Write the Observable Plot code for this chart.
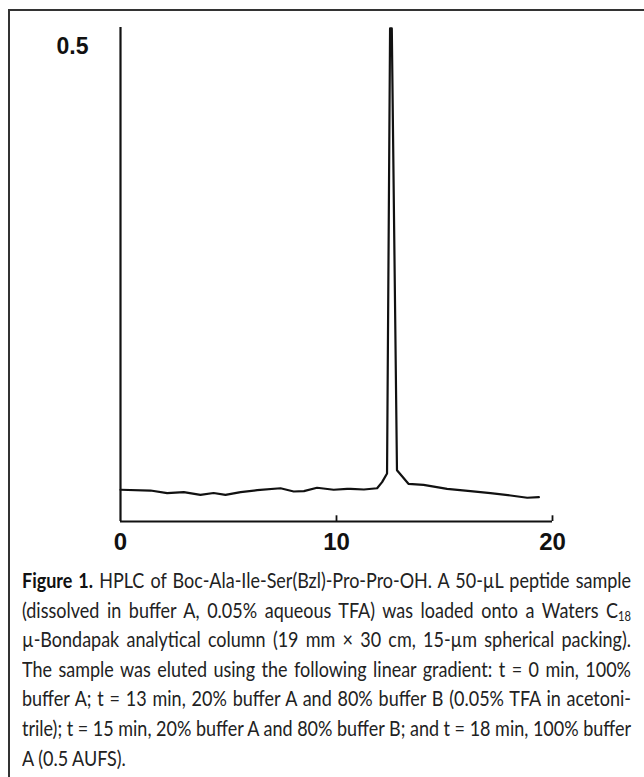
<!DOCTYPE html>
<html>
<head>
<meta charset="utf-8">
<script src="https://cdn.jsdelivr.net/npm/d3@7"></script>
<script src="https://cdn.jsdelivr.net/npm/@observablehq/plot@0.6"></script>
<style>
  html, body { margin: 0; padding: 0; background: #fff; }
  #frame { position: relative; width: 644px; height: 777px; overflow: hidden; }
  #border { position: absolute; left: 8px; top: 9px; right: -10px; bottom: -10px;
            border-top: 2px solid #333; border-left: 2px solid #333; }
  #chart { position: absolute; left: 0; top: 0; }
  #caption { position: absolute; left: 22px; top: 565px; transform-origin: 0 0;
             font-family: Lato, "Open Sans", sans-serif;
             font-size: 21px; line-height: 29.6px; color: #222; white-space: nowrap; }
  #caption .ln { text-align: justify; text-align-last: justify; }
  #caption .ln.last { text-align-last: left; }
  #caption .ln span { display: inline; }
  #caption b { color: #111; }
  #caption sub { font-size: 13px; vertical-align: -3px; line-height: 0; }
</style>
</head>
<body>
<div id="frame">
  <div id="border"></div>
  <div id="chart"></div>
  <div id="caption">
    <div class="ln"><span><b>Figure 1.</b> HPLC of Boc-Ala-Ile-Ser(Bzl)-Pro-Pro-OH. A 50-µL peptide sample</span></div>
    <div class="ln"><span>(dissolved in buffer A, 0.05% aqueous TFA) was loaded onto a Waters C<sub>18</sub></span></div>
    <div class="ln"><span>µ-Bondapak analytical column (19 mm × 30 cm, 15-µm spherical packing).</span></div>
    <div class="ln"><span>The sample was eluted using the following linear gradient: t = 0 min, 100%</span></div>
    <div class="ln"><span>buffer A; t = 13 min, 20% buffer A and 80% buffer B (0.05% TFA in acetoni-</span></div>
    <div class="ln"><span>trile); t = 15 min, 20% buffer A and 80% buffer B; and t = 18 min, 100% buffer</span></div>
    <div class="ln last"><span>A (0.5 AUFS).</span></div>
  </div>
</div>
<script>
// Retention time (min)
const time = [0, 1.39, 2.16, 2.93, 3.70, 4.31, 4.86, 5.56, 6.33, 7.41, 8.02, 8.49, 9.10, 9.87, 10.49, 10.65, 11.27, 11.88, 12.11, 12.34, 12.48, 12.56, 12.80, 13.33, 14.03, 15.12, 16.20, 17.13, 18.06, 18.83, 19.37];
// Absorbance (AU)
const absorbance = [0.0334, 0.0326, 0.0298, 0.0310, 0.0280, 0.0300, 0.0280, 0.0310, 0.0330, 0.0350, 0.0316, 0.0320, 0.0355, 0.0334, 0.0344, 0.0344, 0.0337, 0.0350, 0.0414, 0.0505, 0.519, 0.519, 0.0540, 0.0397, 0.0386, 0.0344, 0.0320, 0.0298, 0.0274, 0.0250, 0.0256];
const xTicks = [0, 10, 20];
const yTicks = [0.5];
const xMax = 20;
const yMax = 0.52;

const data = time.map((t, i) => ({t, a: absorbance[i]}));

const chart = Plot.plot({
  width: 644,
  height: 560,
  marginLeft: 120,
  marginRight: 92,
  marginTop: 27,
  marginBottom: 39,
  x: {domain: [0, xMax]},
  y: {domain: [0, yMax]},
  style: {background: "transparent"},
  marks: [
    Plot.axisX(xTicks, {tickSize: 0, tickPadding: 11, fontSize: 24, fontWeight: "bold",
      fontFamily: "Liberation Sans, Arial, sans-serif", fill: "#111", label: null,
      tickFormat: d => String(d)}),
    Plot.axisY(yTicks, {tickSize: 0, tickPadding: 32, fontSize: 23, fontWeight: "bold",
      fontFamily: "Liberation Sans, Arial, sans-serif", fill: "#111", label: null,
      tickFormat: d => String(d)}),
    Plot.ruleX([0], {y1: 0, y2: yMax, stroke: "#111", strokeWidth: 2.2}),
    Plot.ruleY([0], {x1: 0, x2: xMax, stroke: "#111", strokeWidth: 2.2}),
    Plot.ruleX(xTicks.slice(1), {y1: 0, y2: 0.006, stroke: "#111", strokeWidth: 1.8}),
    Plot.line(data, {x: "t", y: "a", stroke: "#111", strokeWidth: 2.2, curve: "linear"})
  ]
});
document.getElementById("chart").appendChild(chart);

// Fit the justified caption to the reference's text block width (condensed look)
const targetWidth = 609;
const cap = document.getElementById("caption");
const spans = [...cap.querySelectorAll(".ln:not(.last) span")];
const natural = Math.max(...spans.map(s => s.getBoundingClientRect().width));
cap.querySelectorAll(".ln").forEach(l => l.style.width = natural + "px");
cap.style.transform = `scaleX(${targetWidth / natural})`;
</script>
</body>
</html>
